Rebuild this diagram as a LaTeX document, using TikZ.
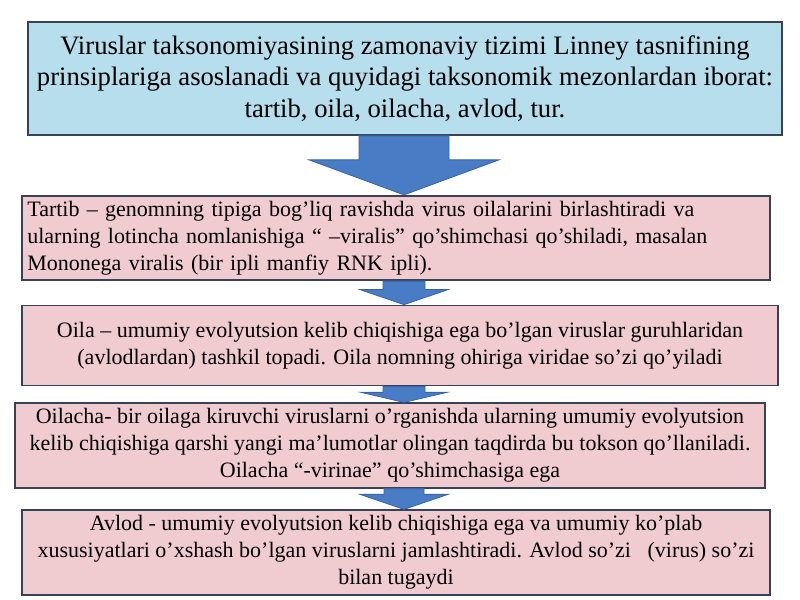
\documentclass[tikz,border=0pt]{standalone}
\usepackage{fontspec}
\setmainfont{Liberation Serif}
\usetikzlibrary{calc}

\definecolor{headblue}{RGB}{183,222,236}
\definecolor{boxpink}{RGB}{240,203,208}
\definecolor{boxedge}{RGB}{55,66,86}
\definecolor{arrowblue}{RGB}{72,124,196}
\definecolor{arrowedge}{RGB}{58,100,168}

\tikzset{
  headbox/.style={draw=boxedge, line width=1.3pt, fill=headblue, inner sep=3pt,
    align=center, font=\fontsize{20}{23.5}\selectfont},
  stagebox/.style={draw=boxedge, line width=1.3pt, fill=boxpink, inner sep=4pt,
    font=\fontsize{16.5}{20.2}\selectfont},
  flowarrow/.style={fill=arrowblue, draw=arrowedge, line width=0.6pt}
}

% block arrow: from node, to node, shaft half width, head half width, head length
\newcommand{\blockarrow}[5]{%
  \filldraw[flowarrow] ($(#1.south -| axis)+(-#3,0)$)
    -- ($(#2.north -| axis)+(-#3,-#5)$) -- ($(#2.north -| axis)+(-#4,-#5)$)
    -- (#2.north -| axis)
    -- ($(#2.north -| axis)+(#4,-#5)$) -- ($(#2.north -| axis)+(#3,-#5)$)
    -- ($(#1.south -| axis)+(#3,0)$) -- cycle;}

\begin{document}
\begin{tikzpicture}[x=0.75pt,y=-0.75pt]

	\useasboundingbox[fill=white] (0,0) rectangle (800,600);
	\coordinate (axis) at (404,0);

	%The taxonomy statement
	\draw node[headbox, minimum width=565.5pt, minimum height=84.75pt] (tizim) at (405,78.5)
	  {Viruslar taksonomiyasining zamonaviy tizimi Linney tasnifining\\
	   prinsiplariga asoslanadi va quyidagi taksonomik mezonlardan iborat:\\
	   tartib, oila, oilacha, avlod, tur.};

	%The ranks
	\draw node[stagebox, text width=553pt, align=left, minimum height=60pt] (tartib) at (396,238)
	  {Tartib – genomning tipiga bog’liq ravishda virus oilalarini birlashtiradi va\\
	   ularning lotincha nomlanishiga “ –viralis” qo’shimchasi qo’shiladi, masalan\\
	   Mononega viralis (bir ipli manfiy RNK ipli).};

	\draw node[stagebox, minimum width=567pt, minimum height=60pt, align=center] (oila) at (400,345.5)
	  {Oila – umumiy evolyutsion kelib chiqishiga ega bo’lgan viruslar guruhlaridan\\
	   (avlodlardan) tashkil topadi. Oila nomning ohiriga viridae so’zi qo’yiladi};

	\draw node[stagebox, minimum width=562.5pt, minimum height=60.75pt, align=center] (oilacha) at (390,445.5)
	  {Oilacha- bir oilaga kiruvchi viruslarni o’rganishda ularning umumiy evolyutsion\\
	   kelib chiqishiga qarshi yangi ma’lumotlar olingan taqdirda bu tokson qo’llaniladi.\\
	   Oilacha “-virinae” qo’shimchasiga ega};

	\draw node[stagebox, minimum width=561pt, minimum height=56.25pt, align=center] (avlod) at (396,552.5)
	  {Avlod - umumiy evolyutsion kelib chiqishiga ega va umumiy ko’plab\\
	   xususiyatlari o’xshash bo’lgan viruslarni jamlashtiradi. Avlod so’zi\ \ \ (virus) so’zi\\
	   bilan tugaydi};

	%Arrows between the boxes
	\blockarrow{tizim}{tartib}{45}{95}{35}
	\blockarrow{tartib}{oila}{21}{44}{15}
	\blockarrow{oila}{oilacha}{21}{43}{10}
	\blockarrow{oilacha}{avlod}{20}{44}{15}

\end{tikzpicture}
\end{document}
